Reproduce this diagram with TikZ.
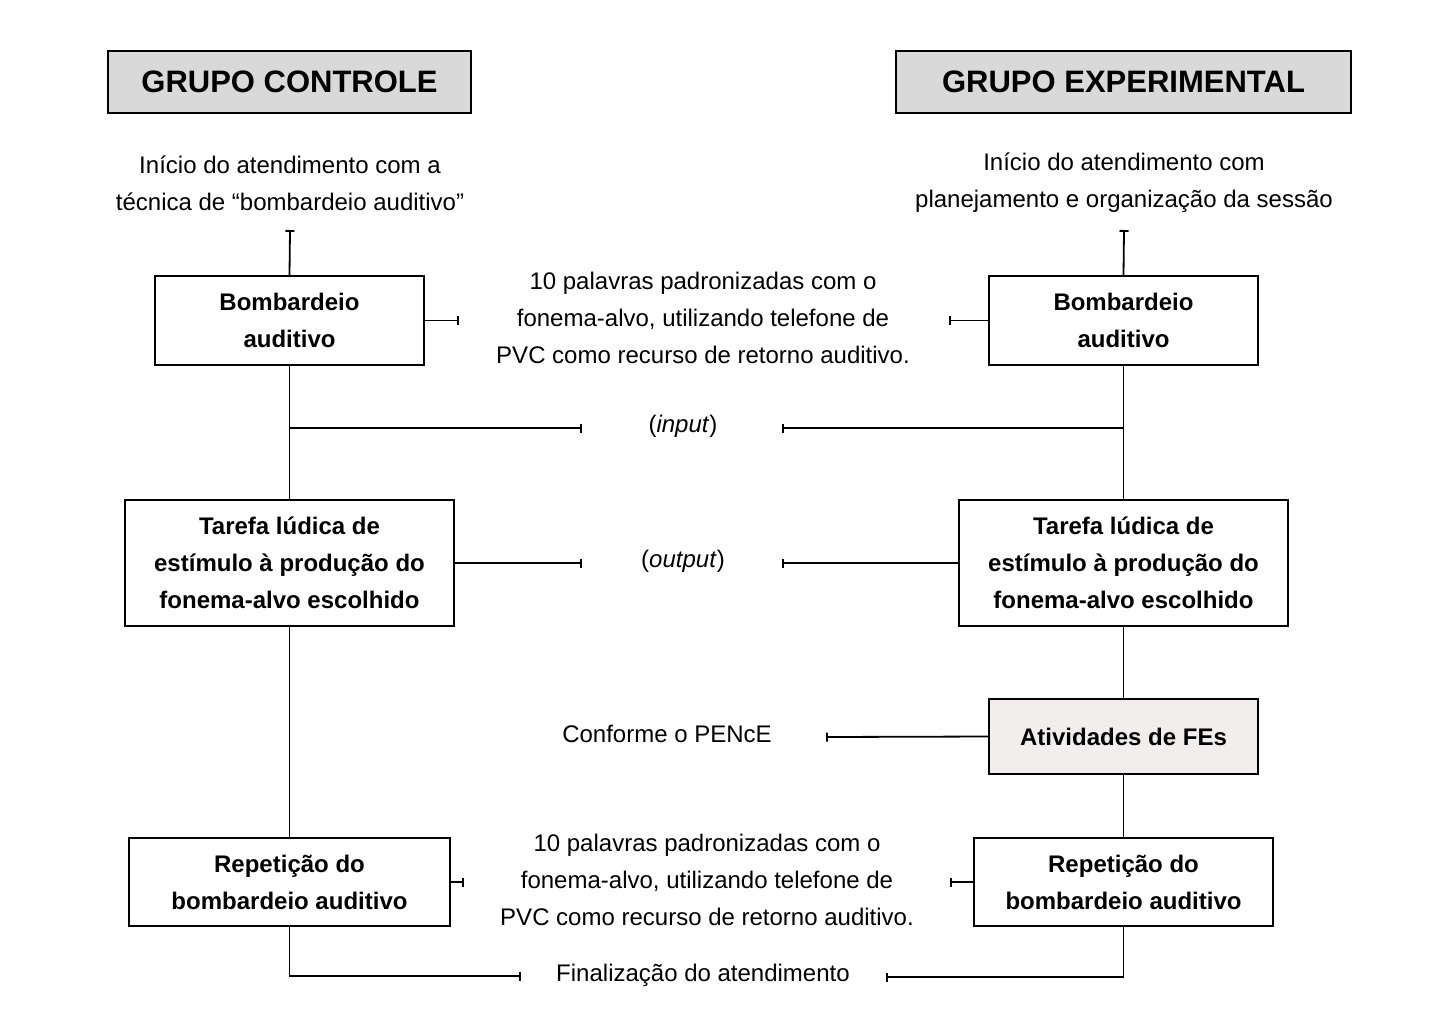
\documentclass[tikz,border=0pt]{standalone}
\usepackage{fontspec}
\setmainfont{Liberation Sans}
\usetikzlibrary{arrows.meta}
\begin{document}
\begin{tikzpicture}[x=1pt,y=-1pt,
  box/.style={draw,line width=1.8pt,inner sep=0pt,font=\fontsize{24}{37}\selectfont\bfseries,align=center},
  ttl/.style={draw,line width=1.8pt,fill=black!15,inner sep=0pt,font=\fontsize{31}{37}\selectfont\bfseries},
  txt/.style={font=\fontsize{24}{37}\selectfont,align=center,inner sep=0pt},
  ln/.style={line width=1.8pt},
  br/.style={ln,-{Bar[width=9pt,line width=1.8pt]}}]
\useasboundingbox (0,0) rectangle (1440,1018);
\node[ttl,minimum width=363pt,minimum height=62pt] (t1) at (289.5,82) {GRUPO CONTROLE};
\node[ttl,minimum width=455pt,minimum height=62pt] (t2) at (1123.5,82) {GRUPO EXPERIMENTAL};
\node[txt] (s1) at (290,183) {Início do atendimento com a\\técnica de “bombardeio auditivo”};
\node[txt] (s2) at (1124,183) {Início do atendimento com\\planejamento e organização da sessão};
\coordinate (s1b) at (290,230); \coordinate (s2b) at (1124,230);
\node[box,minimum width=269pt,minimum height=89pt] (b1) at (289.5,320.5) {Bombardeio\\auditivo};
\node[box,minimum width=269pt,minimum height=89pt] (b2) at (1123.5,320.5) {Bombardeio\\auditivo};
\node[txt] (m1) at (703,318) {10 palavras padronizadas com o\\fonema-alvo, utilizando telefone de\\PVC como recurso de retorno auditivo.};
\node[txt] (inp) at (683,426) {(\textit{input})};
\node[box,minimum width=329pt,minimum height=126pt] (c1) at (289.5,563) {Tarefa lúdica de\\estímulo à produção do\\fonema-alvo escolhido};
\node[box,minimum width=329pt,minimum height=126pt] (c2) at (1123.5,563) {Tarefa lúdica de\\estímulo à produção do\\fonema-alvo escolhido};
\node[txt] (out) at (683,561) {(\textit{output})};
\node[box,fill={rgb,255:red,243;green,238;blue,238},minimum width=269pt,minimum height=75pt] (fe) at (1123.5,736.5) {Atividades de FEs};
\node[txt] (pe) at (667,734) {Conforme o PENcE};
\node[box,minimum width=321pt,minimum height=88pt] (r1) at (289.5,882) {Repetição do\\bombardeio auditivo};
\node[box,minimum width=299pt,minimum height=88pt] (r2) at (1123.5,882) {Repetição do\\bombardeio auditivo};
\node[txt] (m2) at (707,880) {10 palavras padronizadas com o\\fonema-alvo, utilizando telefone de\\PVC como recurso de retorno auditivo.};
\node[txt] (fin) at (703,975) {Finalização do atendimento};
% connectors
\draw[ln,{Bar[width=9pt,line width=1.8pt]}-] (s1b) -- (b1.north);
\draw[ln,{Bar[width=9pt,line width=1.8pt]}-] (s2b) -- (b2.north);
\draw[br] (b1.east) -- ++(34,0);
\draw[br] (b2.west) -- ++(-39,0);
\draw[ln] (b1.south) -- (c1.north);
\draw[ln] (b2.south) -- (c2.north);
\draw[br] (290,428) -- (582,428);
\draw[br] (1124,428) -- (782,428);
\draw[br] (c1.east) -- (582,563);
\draw[br] (c2.west) -- (782,563);
\draw[ln] (c1.south) -- (r1.north);
\draw[ln] (c2.south) -- (fe.north);
\draw[ln] (fe.south) -- (r2.north);
\draw[br] (fe.west) -- (826,737);
\draw[br] (r1.east) -- (464,882);
\draw[br] (r2.west) -- (950,882);
\draw[br] (r1.south) |- (521,976);
\draw[br] (r2.south) |- (886,977);
\end{tikzpicture}
\end{document}
